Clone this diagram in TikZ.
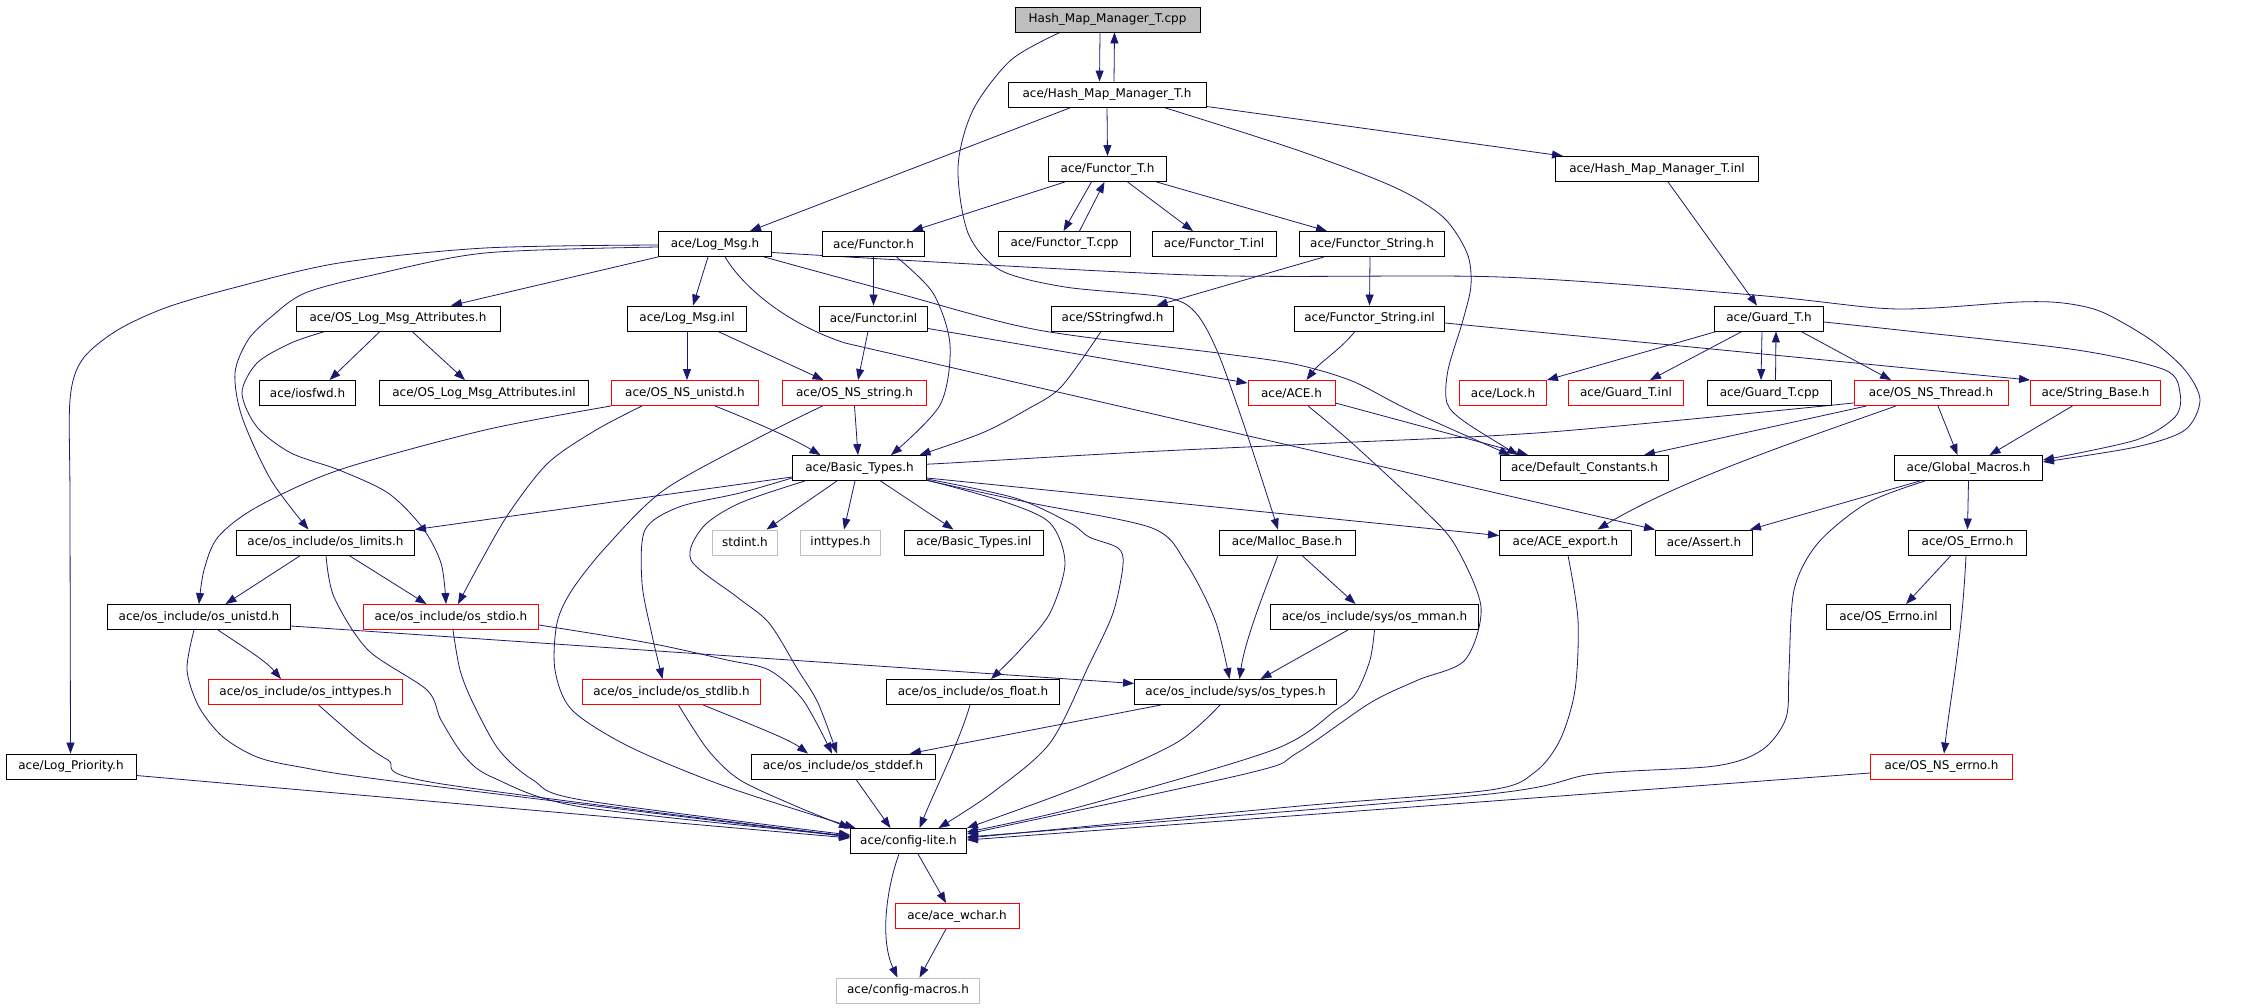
\documentclass[tikz,border=0pt]{standalone}
\usepackage{fontspec}
\setmainfont{DejaVu Sans}
\usetikzlibrary{arrows.meta,calc,backgrounds}
\definecolor{edgecol}{RGB}{25,25,112}
\definecolor{grayborder}{RGB}{191,191,191}
\definecolor{mainfill}{RGB}{191,191,191}
\begin{document}
\begin{tikzpicture}[x=1pt,y=-1pt,
  box/.style={draw=black, fill=white, line width=0.9pt, minimum height=25pt, inner sep=0pt, font=\fontsize{12}{14}\selectfont, text=black},
  redbox/.style={box, draw=red},
  graybox/.style={box, draw=grayborder},
  mainbox/.style={box, fill=mainfill},
  conn/.style={draw=edgecol, line width=0.8pt, -{Triangle[length=11pt,width=8pt]}},
  smoothy/.style={smooth, tension=0.5}]
\useasboundingbox (0,0) rectangle (2267,1008);
% nodes
\node[mainbox, minimum width=185pt] (cpp) at (1107.5,19.5) {Hash\_Map\_Manager\_T.cpp};
\node[box, minimum width=198pt] (hmh) at (1107,94.5) {ace/Hash\_Map\_Manager\_T.h};
\node[box, minimum width=118pt] (functorT) at (1107.5,169) {ace/Functor\_T.h};
\node[box, minimum width=203pt] (hmminl) at (1657,169) {ace/Hash\_Map\_Manager\_T.inl};
\node[box, minimum width=113pt] (logmsg) at (715,244) {ace/Log\_Msg.h};
\node[box, minimum width=102pt] (functor) at (873.5,244) {ace/Functor.h};
\node[box, minimum width=132pt] (functorTcpp) at (1064.5,244) {ace/Functor\_T.cpp};
\node[box, minimum width=124pt] (functorTinl) at (1214,244) {ace/Functor\_T.inl};
\node[box, minimum width=145pt] (functorStr) at (1372,244) {ace/Functor\_String.h};
\node[box, minimum width=204pt] (oslogattr) at (398,318.5) {ace/OS\_Log\_Msg\_Attributes.h};
\node[box, minimum width=119pt] (logmsginl) at (687,318.5) {ace/Log\_Msg.inl};
\node[box, minimum width=108pt] (functorinl) at (873.5,318.5) {ace/Functor.inl};
\node[box, minimum width=122pt] (sstringfwd) at (1112.5,318.5) {ace/SStringfwd.h};
\node[box, minimum width=150pt] (functorStrInl) at (1369.5,318.5) {ace/Functor\_String.inl};
\node[box, minimum width=109pt] (guardT) at (1769,318.5) {ace/Guard\_T.h};
\node[box, minimum width=96pt] (iosfwd) at (307.5,393) {ace/iosfwd.h};
\node[box, minimum width=209pt] (oslogattrinl) at (484,393) {ace/OS\_Log\_Msg\_Attributes.inl};
\node[redbox, minimum width=147pt] (osnsunistd) at (685,393) {ace/OS\_NS\_unistd.h};
\node[redbox, minimum width=144pt] (osnsstring) at (854.5,393) {ace/OS\_NS\_string.h};
\node[redbox, minimum width=87pt] (ace) at (1291.5,393) {ace/ACE.h};
\node[redbox, minimum width=87pt] (lock) at (1503,393) {ace/Lock.h};
\node[redbox, minimum width=115pt] (guardTinl) at (1626,393) {ace/Guard\_T.inl};
\node[box, minimum width=124pt] (guardTcpp) at (1769.5,393) {ace/Guard\_T.cpp};
\node[redbox, minimum width=154pt] (osnsthread) at (1931,393) {ace/OS\_NS\_Thread.h};
\node[redbox, minimum width=130pt] (stringbase) at (2095.5,393) {ace/String\_Base.h};
\node[box, minimum width=134pt] (basictypes) at (859.5,468) {ace/Basic\_Types.h};
\node[box, minimum width=168pt] (defconst) at (1584.5,468) {ace/Default\_Constants.h};
\node[box, minimum width=148pt] (globalmacros) at (1968.5,468) {ace/Global\_Macros.h};
\node[box, minimum width=178pt] (oslimits) at (325.5,542.5) {ace/os\_include/os\_limits.h};
\node[graybox, minimum width=65pt] (stdint) at (745,542.5) {stdint.h};
\node[graybox, minimum width=80pt] (inttypes) at (840.5,542.5) {inttypes.h};
\node[box, minimum width=139pt] (basictypesinl) at (974,542.5) {ace/Basic\_Types.inl};
\node[box, minimum width=136pt] (mallocbase) at (1287,542.5) {ace/Malloc\_Base.h};
\node[box, minimum width=132pt] (aceexport) at (1565.5,542.5) {ace/ACE\_export.h};
\node[box, minimum width=97pt] (assert) at (1704,542.5) {ace/Assert.h};
\node[box, minimum width=118pt] (oserrno) at (1967.5,542.5) {ace/OS\_Errno.h};
\node[box, minimum width=183pt] (osunistd) at (199,617) {ace/os\_include/os\_unistd.h};
\node[redbox, minimum width=175pt] (osstdio) at (451,617) {ace/os\_include/os\_stdio.h};
\node[box, minimum width=208pt] (osmman) at (1374.5,617) {ace/os\_include/sys/os\_mman.h};
\node[box, minimum width=124pt] (oserrnoinl) at (1888.5,617) {ace/OS\_Errno.inl};
\node[redbox, minimum width=194pt] (osinttypes) at (305.5,692) {ace/os\_include/os\_inttypes.h};
\node[redbox, minimum width=178pt] (osstdlib) at (671.5,692) {ace/os\_include/os\_stdlib.h};
\node[box, minimum width=173pt] (osfloat) at (973,692) {ace/os\_include/os\_float.h};
\node[box, minimum width=202pt] (ostypes) at (1235.5,692) {ace/os\_include/sys/os\_types.h};
\node[box, minimum width=130pt] (logprio) at (71,766.5) {ace/Log\_Priority.h};
\node[box, minimum width=184pt] (osstddef) at (843,766.5) {ace/os\_include/os\_stddef.h};
\node[redbox, minimum width=142pt] (osnserrno) at (1941.5,766.5) {ace/OS\_NS\_errno.h};
\node[box, minimum width=116pt] (configlite) at (908.5,841) {ace/config-lite.h};
\node[redbox, minimum width=124pt] (acewchar) at (957,916) {ace/ace\_wchar.h};
\node[graybox, minimum width=143pt] (configmacros) at (908,990.5) {ace/config-macros.h};

\begin{scope}[on background layer]
\fill[white] (0,0) rectangle (2267,1008);
% top
\draw[conn] ($(cpp.south)+(-7.5,0)$) -- ($(hmh.north)+(-7.5,0)$);
\draw[conn] ($(hmh.north)+(7,0)$) -- ($(cpp.south)+(7,0)$);
\draw[conn] plot[smoothy] coordinates {($(cpp.south)+(-47.5,0)$) (1011,60) (973,110) (958,167) (968,233) (1000,270) (1065,287) (1164,297) (1195,312) (1218,353) (1248,437) ($(mallocbase.north)+(-9,0)$)};
\draw[conn] ($(hmh.south)+(-36,0)$) -- ($(logmsg.north)+(35,0)$);
\draw[conn] (hmh.south) -- (functorT.north);
\draw[conn] ($(hmh.south east)+(0,-1)$) -- ($(hmminl.north west)+(8,0)$);
\draw[conn] plot[smoothy] coordinates {($(hmh.south)+(57,0)$) (1297,150) (1394,187) (1443,217) (1467,253) (1471,285) (1463,320) (1448,370) (1447,403) (1465,422) ($(defconst.north west)+(18,0)$)};
% Functor_T
\draw[conn] ($(functorT.south)+(-42.5,0)$) -- ($(functor.north)+(38.5,0)$);
\draw[conn] ($(functorT.south)+(-16,0)$) -- ($(functorTcpp.north)+(-1,0)$);
\draw[conn] ($(functorTcpp.north)+(15,0)$) -- ($(functorT.south)+(-3,0)$);
\draw[conn] ($(functorT.south)+(20,0)$) -- ($(functorTinl.north)+(-21,0)$);
\draw[conn] ($(functorT.south)+(49,0)$) -- ($(functorStr.north)+(-45,0)$);
\draw[conn] (functor.south) -- (functorinl.north);
\draw[conn] plot[smoothy] coordinates {($(functor.south)+(23,0)$) (933,293) (950,345) (940,405) ($(basictypes.north)+(31.5,0)$)};
\draw[conn] ($(functorStr.south)+(-48,0)$) -- ($(sstringfwd.north)+(44,0)$);
\draw[conn] ($(functorStr.south)+(-2,0)$) -- (functorStrInl.north);
\draw[conn] plot[smoothy] coordinates {($(sstringfwd.south)+(-11.5,0)$) (1061,387) (1026,410) (982,433) ($(basictypes.north)+(60,0)$)};
\draw[conn] ($(functorStrInl.south)+(-14.5,0)$) .. controls (1340,350) and (1320,362) .. ($(ace.north)+(15,0)$);
\draw[conn] ($(functorStrInl.east)+(0,4.5)$) -- (stringbase.north west);
% Log_Msg
\draw[conn] (logmsg.south west) -- ($(oslogattr.north)+(53,0)$);
\draw[conn] ($(logmsg.south)+(-7,0)$) -- ($(logmsginl.north)+(6,0)$);
\draw[conn] plot[smoothy] coordinates {($(logmsg.west)+(0,1)$) (485,248) (339,263) (233,288) (165,308) (116,331) (82,360) (70,400) (70,500) ($(logprio.north)+(-0.5,0)$)};
\draw[conn] plot[smoothy] coordinates {($(logmsg.west)+(0,3)$) (485,253) (373,275) (305,293) (271,317) (248,340) (235,373) (242,417) (271,480) ($(oslimits.north)+(-17,0)$)};
\draw[conn] plot[smoothy] coordinates {($(logmsg.south east)+(-8,0)$) (900,294) (1038,330) (1218,353) (1294,364) (1352,381) (1409,410) ($(defconst.north west)+(10,0)$)};
\draw[conn] ($(logmsg.south)+(10,0)$) .. controls (745,290) and (790,325) .. (845,343) -- (assert.north west);
\draw[conn] plot[smoothy] coordinates {($(logmsg.east)+(0,8.5)$) (1191,275) (1500,277) (1754,295) (1877,308) (1933,308) (2019,302) (2063,303) (2102,312) (2151,340) (2185,370) (2200,400) (2185,430) (2136,447) ($(globalmacros.east)+(0,-6)$)};
% inl
\draw[conn] ($(functorinl.south)+(-5.5,0)$) -- ($(osnsstring.north)+(3.5,0)$);
\draw[conn] ($(functorinl.east)+(0,10)$) -- ($(ace.north west)+(0,3)$);
\draw[conn] (logmsginl.south) -- ($(osnsunistd.north)+(2,0)$);
\draw[conn] ($(logmsginl.south)+(31,0)$) -- ($(osnsstring.north)+(-31,0)$);
% OS_Log_Msg_Attributes
\draw[conn] ($(oslogattr.south)+(-18,0)$) -- ($(iosfwd.north)+(22,0)$);
\draw[conn] ($(oslogattr.south)+(14,0)$) -- ($(oslogattrinl.north)+(-19,0)$);
\draw[conn] plot[smoothy] coordinates {($(oslogattr.south)+(-73,0)$) (291,343) (257,363) (242,393) (257,427) (291,453) (339,470) (388,493) (422,527) (441,563) ($(osstdio.north)+(-5,0)$)};
% OS_NS_unistd
\draw[conn] plot[smoothy] coordinates {(osnsunistd.south west) (485,430) (339,470) (257,507) (218,537) (204,570) (osunistd.north)};
\draw[conn] plot[smoothy] coordinates {($(osnsunistd.south)+(-43,0)$) (596,430) (548,463) (509,513) (480,563) ($(osstdio.north)+(7,0)$)};
\draw[conn] ($(osnsunistd.south)+(30,0)$) .. controls (750,420) and (790,437) .. ($(basictypes.north)+(-39,0)$);
% OS_NS_string
\draw[conn] (osnsstring.south) -- ($(basictypes.north)+(-1.5,0)$);
\draw[conn] plot[smoothy] coordinates {($(osnsstring.south)+(-32,0)$) (760,437) (664,490) (606,547) (572,590) (557,623) (555,670) (572,710) (630,747) (727,787) ($(configlite.north west)+(5.5,0)$)};
% ACE.h
\draw[conn] ($(ace.east)+(0,10)$) -- ($(defconst.north west)+(28,0)$);
\draw[conn] plot[smoothy] coordinates {($(ace.south)+(16.5,0)$) (1352,443) (1424,510) (1455,545) (1481,607) (1465,660) (1418,680) (1370,703) (1297,753) (1249,773) ($(configlite.east)+(0,-7)$)};
% Malloc / mman / types
\draw[conn] ($(mallocbase.south)+(-9,0)$) .. controls (1265,590) and (1245,640) .. ($(ostypes.north)+(4,0)$);
\draw[conn] ($(mallocbase.south)+(15,0)$) -- ($(osmman.north)+(-19,0)$);
\draw[conn] ($(osmman.south)+(-26.5,0)$) -- ($(ostypes.north)+(25,0)$);
\draw[conn] plot[smoothy] coordinates {(osmman.south) (1370,660) (1356,693) (1336,710) (1273,750) (1079,807) ($(configlite.east)+(0,-9)$)};
\draw[conn] ($(ostypes.south west)+(27,0)$) -- ($(osstddef.north east)+(-25.5,0)$);
\draw[conn] plot[smoothy] coordinates {($(ostypes.south)+(-15.5,0)$) (1176,743) (1079,787) (configlite.north east)};
\draw[conn] ($(osfloat.south)+(-3,0)$) .. controls (960,740) and (935,790) .. ($(configlite.north)+(11,0)$);
% Basic_Types outputs
\draw[conn] plot[smoothy] coordinates {($(basictypes.east)+(0,11)$) (1015,498) (1070,523) (1089,537) (1118,548) (1123,565) (1113,613) (1089,665) (1050,743) (992,793) ($(configlite.north)+(30,0)$)};
\draw[conn] plot[smoothy] coordinates {($(basictypes.east)+(0,12)$) (1005,502) (1050,523) (1065,563) (1050,613) (1020,650) ($(osfloat.north)+(18,0)$)};
\draw[conn] plot[smoothy] coordinates {($(basictypes.east)+(0,12.5)$) (1031,503) (1152,528) (1186,563) (1215,620) ($(ostypes.north)+(-6,0)$)};
\draw[conn] ($(basictypes.east)+(0,10)$) -- ($(aceexport.north west)+(0,6)$);
\draw[conn] ($(basictypes.south)+(-22.5,0)$) -- ($(stdint.north)+(21.5,0)$);
\draw[conn] ($(basictypes.south)+(-4.5,0)$) -- ($(inttypes.north)+(3.5,0)$);
\draw[conn] ($(basictypes.south)+(21,0)$) -- ($(basictypesinl.north)+(-20.5,0)$);
\draw[conn] ($(basictypes.west)+(0,9)$) -- (oslimits.north east);
\draw[conn] plot[smoothy] coordinates {($(basictypes.west)+(0,10)$) (740,493) (679,507) (645,530) (642,583) (652,635) ($(osstdlib.north)+(-9,0)$)};
\draw[conn] plot[smoothy] coordinates {($(basictypes.south west)+(13,0)$) (740,503) (703,527) (691,560) (737,597) (769,623) (798,670) (818,703) ($(osstddef.north)+(-6,0)$)};
% OS_NS_Thread
\draw[conn] plot[smoothy] coordinates {($(osnsthread.west)+(0,10)$) (1550,432) (1333,443) (1141,452) (950,463) ($(basictypes.east)+(0,-4)$)};
\draw[conn] ($(osnsthread.south west)+(13,0)$) -- ($(defconst.north east)+(-25,0)$);
\draw[conn] ($(osnsthread.south)+(-35,0)$) .. controls (1800,440) and (1680,480) .. ($(aceexport.north)+(32,0)$);
\draw[conn] ($(osnsthread.south)+(7,0)$) -- ($(globalmacros.north)+(-11,0)$);
\draw[conn] ($(stringbase.south)+(-23,0)$) -- ($(globalmacros.north)+(21,0)$);
% Guard_T
\draw[conn] ($(guardT.south west)+(2.5,0)$) -- (lock.north east);
\draw[conn] ($(guardT.south)+(-27,0)$) -- ($(guardTinl.north)+(24,0)$);
\draw[conn] ($(guardT.south)+(-7,0)$) -- ($(guardTcpp.north)+(-8.5,0)$);
\draw[conn] ($(guardTcpp.north)+(6,0)$) -- ($(guardT.south)+(7,0)$);
\draw[conn] ($(guardT.south)+(32,0)$) -- ($(osnsthread.north)+(-40,0)$);
\draw[conn] plot[smoothy] coordinates {($(guardT.east)+(0,3.5)$) (1908,331) (2077,350) (2165,370) (2180,393) (2175,417) (2136,440) ($(globalmacros.east)+(0,-8)$)};
\draw[conn] ($(hmminl.south)+(11,0)$) -- ($(guardT.north)+(-12,0)$);
% Global_Macros
\draw[conn] ($(globalmacros.south west)+(26,0)$) -- ($(assert.north east)+(-3,0)$);
\draw[conn] (globalmacros.south) -- (oserrno.north);
\draw[conn] plot[smoothy] coordinates {($(globalmacros.south west)+(31,0)$) (1867,503) (1818,543) (1794,590) (1789,670) (1786,718) (1762,750) (1715,766) (1593,774) (1480,795) ($(configlite.east)+(0,-4)$)};
\draw[conn] ($(oserrno.south)+(-16.5,0)$) -- ($(oserrnoinl.north)+(17.5,0)$);
\draw[conn] ($(oserrno.south)+(-1.5,0)$) .. controls (1962,640) and (1950,700) .. ($(osnserrno.north)+(2.5,0)$);
\draw[conn] ($(osnserrno.west)+(0,6.5)$) -- ($(configlite.east)+(0,-1)$);
\draw[conn] plot[smoothy] coordinates {($(aceexport.south)+(2.5,0)$) (1578,620) (1575,690) (1560,740) (1535,772) (1490,790) (1300,806) ($(configlite.east)+(0,-3)$)};
% os_include
\draw[conn] ($(oslimits.south)+(-25,0)$) -- ($(osunistd.north)+(26.5,0)$);
\draw[conn] ($(oslimits.south)+(23.5,0)$) -- ($(osstdio.north)+(-24.5,0)$);
\draw[conn] plot[smoothy] coordinates {($(oslimits.south)+(0.5,0)$) (334,597) (368,650) (427,690) (441,720) (465,757) (494,778) (582,807) ($(configlite.west)+(0,-5)$)};
\draw[conn] ($(osunistd.south)+(19,0)$) .. controls (240,645) and (265,660) .. ($(osinttypes.north)+(-24.5,0)$);
\draw[conn] plot[smoothy] coordinates {($(osunistd.south)+(-5,0)$) (187,670) (199,707) (223,737) (257,757) (300,767) (400,782) ($(configlite.west)+(0,-4)$)};
\draw[conn] ($(osunistd.east)+(0,9)$) -- ($(ostypes.west)+(0,-8.5)$);
\draw[conn] plot[smoothy] coordinates {($(osstdio.east)+(0,8)$) (649,643) (727,660) (769,670) (803,700) ($(osstddef.north)+(-11,0)$)};
\draw[conn] plot[smoothy] coordinates {($(osstdio.south)+(2,0)$) (460,670) (473,703) (499,750) (533,780) (582,800) ($(configlite.west)+(0,-6)$)};
\draw[conn] plot[smoothy] coordinates {($(osinttypes.south)+(13,0)$) (359,740) (388,760) (436,783) ($(configlite.west)+(0,-4.5)$)};
\draw[conn] plot[smoothy] coordinates {($(osstdlib.south)+(7,0)$) (708,750) (740,780) (798,807) (configlite.north west)};
\draw[conn] ($(osstdlib.south)+(31.5,0)$) .. controls (760,728) and (790,740) .. ($(osstddef.north)+(-35,0)$);
\draw[conn] ($(logprio.east)+(0,9)$) -- ($(configlite.west)+(0,-3)$);
\draw[conn] ($(osstddef.south)+(13,0)$) -- ($(configlite.north)+(-18,0)$);
% bottom
\draw[conn] ($(configlite.south)+(9.5,0)$) -- ($(acewchar.north)+(-11,0)$);
\draw[conn] ($(configlite.south)+(-9.5,0)$) .. controls (886,890) and (880,940) .. ($(configmacros.north)+(-10.5,0)$);
\draw[conn] ($(acewchar.south)+(-11,0)$) -- ($(configmacros.north)+(11.5,0)$);
\end{scope}
\end{tikzpicture}
\end{document}
